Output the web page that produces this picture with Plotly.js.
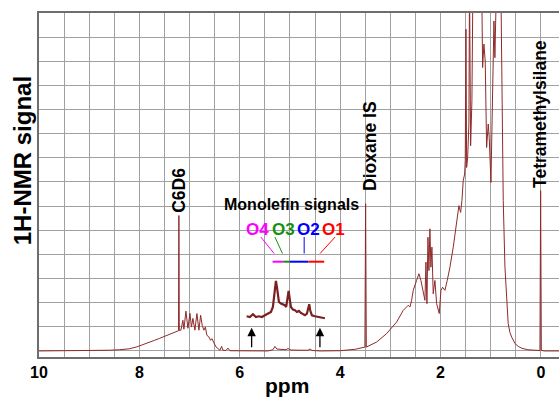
<!DOCTYPE html>
<html>
<head>
<meta charset="utf-8">
<script src="https://cdn.plot.ly/plotly-3.0.1.min.js"></script>
</head>
<body style="margin:0;background:#fff">
<div id="chart"></div>
<script>
// Main 1H-NMR spectrum (chemical shift in ppm, signal in grid units)
const ppm = [10.0, 9.0, 8.8, 8.6, 8.4, 8.2, 8.05, 7.95, 7.8, 7.7, 7.6, 7.5, 7.4, 7.3, 7.22, 7.213, 7.205,
  7.173, 7.133, 7.113, 7.073, 7.033, 6.993, 6.963, 6.934, 6.894, 6.854, 6.814, 6.780, 6.748, 6.714, 6.685,
  6.655, 6.615, 6.581, 6.555, 6.515, 6.475, 6.435, 6.396, 6.362, 6.336, 6.276, 6.236, 6.196, 6.0,
  5.44, 5.34, 5.30, 5.26, 5.16, 5.08, 5.04, 4.98, 4.80, 4.64, 4.60, 4.56, 4.40, 4.00, 3.70, 3.55,
  3.507, 3.493, 3.479, 3.273, 3.074, 2.875, 2.744, 2.644, 2.610, 2.576, 2.544, 2.477, 2.431, 2.391,
  2.345, 2.311, 2.291, 2.271, 2.251, 2.231, 2.212, 2.192, 2.172, 2.146, 2.112, 2.078, 2.026, 1.992,
  1.959, 1.913, 1.867, 1.813, 1.747, 1.680, 1.634, 1.600, 1.574, 1.548, 1.520, 1.508, 1.494, 1.480,
  1.460, 1.435, 1.423, 1.401, 1.375, 1.349, 1.295, 1.215, 1.162, 1.136, 1.110, 1.082, 1.050, 1.030,
  0.996, 0.962, 0.936, 0.917, 0.897, 0.837, 0.797, 0.777, 0.751, 0.717, 0.683, 0.652, 0.618, 0.584,
  0.518, 0.452, 0.379, 0.259, 0.120, 0.020, 0.006, -0.008, -0.08, -0.36];
const intensity = [0.0, 0.0, 0.01, 0.03, 0.05, 0.09, 0.17, 0.24, 0.36, 0.44, 0.52, 0.61, 0.71, 0.79, 0.84, 5.61, 0.85,
  0.86, 1.27, 0.90, 1.65, 0.94, 1.56, 0.99, 1.35, 0.86, 1.55, 0.86, 1.48, 1.06, 0.86, 0.99,
  0.65, 0.58, 0.44, 0.51, 0.31, 0.17, 0.10, 0.03, 0.19, 0.03, 0.02, 0.12, 0.01, 0.0,
  0.0, 0.05, 0.19, 0.08, 0.07, 0.05, 0.10, 0.04, 0.03, 0.03, 0.08, 0.02, 0.0, 0.01, 0.07, 0.13,
  0.16, 6.10, 0.16, 0.37, 0.72, 1.20, 1.68, 1.89, 1.82, 2.10, 2.51, 2.92, 3.20, 2.92,
  2.51, 2.10, 3.68, 1.96, 4.71, 3.33, 5.06, 3.47, 4.30, 2.37, 2.92, 1.96, 1.55, 2.51,
  2.64, 2.51, 2.92, 3.47, 4.30, 5.26, 6.02, 5.74, 6.23, 7.05, 7.33, 7.88, 13.33, 7.60,
  8.02, 9.40, 15.3, 8.50, 10.36, 16.6, 20.0, 22.0, 11.74, 12.71, 12.01, 8.43, 9.40, 8.84,
  6.98, 12.01, 13.67, 12.15, 16.0, 20.0, 14.9, 10.36, 6.23, 3.47, 2.10, 1.13, 0.77, 0.58,
  0.31, 0.19, 0.11, 0.05, 0.03, 0.02, 6.64, 0.02, 0.0, 0.0];

// Magnified olefin region (inset)
const insetPpm = [5.864, 5.798, 5.738, 5.678, 5.618, 5.559, 5.499, 5.439, 5.379, 5.340, 5.320, 5.300, 5.280,
  5.260, 5.240, 5.220, 5.180, 5.140, 5.101, 5.075, 5.055, 5.027, 5.001, 4.981, 4.941, 4.901, 4.862,
  4.822, 4.782, 4.742, 4.702, 4.662, 4.636, 4.616, 4.597, 4.563, 4.503, 4.443, 4.383, 4.324, 4.304];
const insetIntensity = [0.20, 0.13, 0.40, 0.13, 0.20, 0.13, 0.30, 0.47, 0.63, 1.13, 2.13, 3.13, 3.73,
  3.13, 2.13, 1.63, 1.47, 1.40, 1.30, 1.13, 1.80, 2.73, 1.80, 1.13, 0.87, 0.80, 0.63,
  0.73, 0.53, 0.40, 0.30, 0.47, 1.13, 1.40, 0.80, 0.30, 0.20, 0.13, 0.07, -0.03, 0.00];

// Tick positions (grid every 0.5 ppm) and tick labels (every 2 ppm)
const tickVals = [10, 9.5, 9, 8.5, 8, 7.5, 7, 6.5, 6, 5.5, 5, 4.5, 4, 3.5, 3, 2.5, 2, 1.5, 1, 0.5, 0];
const tickText = ['10', '', '', '', '8', '', '', '', '6', '', '', '', '4', '', '', '', '2', '', '', '', '0'];

// Peak labels
const peakLabels = ['C6D6', 'Dioxane IS', 'Tetramethylsilane'];
const peakLabelPpm = [7.215, 3.417, 0.01];

// Olefin group labels and their ppm ranges
const olefinLabels = ['O4', 'O3', 'O2', 'O1'];
const olefinColors = ['#ff00ff', '#129112', '#0000ff', '#ff0000'];
const olefinLabelPpm = [5.643, 5.134, 4.622, 4.124];
const olefinSegStart = [5.346, 5.134, 5.001, 4.636];
const olefinSegEnd = [5.134, 5.001, 4.636, 4.318];
const connectorTop = [5.581, 5.300, 4.717, 4.100];
const connectorBottom = [5.315, 5.149, 4.717, 4.400];
const arrowPpm = [5.764, 4.403];

const FONT = '"Liberation Sans", Arial, Helvetica, sans-serif';
const GRID = 'rgb(160,160,160)';
const H = 344, TOPPX = 13; // plot height and top offset in px
const py = (ypx) => (TOPPX + H - ypx) / H; // pixel y -> paper y

const traces = [
  {x: ppm, y: intensity, type: 'scatter', mode: 'lines',
   line: {color: '#8e2a2a', width: 1}, hoverinfo: 'skip'},
  {x: insetPpm, y: insetIntensity, type: 'scatter', mode: 'lines',
   line: {color: '#7a2020', width: 2.2}, yaxis: 'y2', hoverinfo: 'skip'}
];

const shapes = [
  {type: 'rect', xref: 'x', yref: 'paper', x0: 5.90, x1: 4.244, y0: py(327), y1: py(264),
   fillcolor: '#ffffff', line: {width: 0}, layer: 'between'}
];
for (let i = 0; i < olefinLabels.length; i++) {
  shapes.push({type: 'line', xref: 'x', yref: 'paper', x0: olefinSegStart[i], x1: olefinSegEnd[i],
    y0: py(261.7), y1: py(261.7), line: {color: olefinColors[i], width: 2}});
  shapes.push({type: 'line', xref: 'x', yref: 'paper', x0: connectorTop[i], x1: connectorBottom[i],
    y0: py(237), y1: py(253.5), line: {color: olefinColors[i], width: 1}});
}

const annotations = [
  {text: '<b>1H-NMR signal</b>', xref: 'paper', yref: 'paper', x: -0.0327, y: 0.572, textangle: -90,
   showarrow: false, xanchor: 'center', yanchor: 'middle', font: {family: FONT, size: 24, color: '#000'}},
  {text: '<b>ppm</b>', xref: 'paper', yref: 'paper', x: 0.477, y: py(372), showarrow: false,
   xanchor: 'center', yanchor: 'top', font: {family: FONT, size: 21, color: '#000'}},
  {text: '<b>Monolefin signals</b>', xref: 'x', yref: 'paper', x: 4.967, y: py(204), showarrow: false,
   xanchor: 'center', yanchor: 'middle', font: {family: FONT, size: 16, color: '#000'}}
];
const peakLabelY = [190, 146.5, 113.5];
for (let i = 0; i < peakLabels.length; i++) {
  annotations.push({text: '<b>' + peakLabels[i] + '</b>', xref: 'x', yref: 'paper', x: peakLabelPpm[i],
    y: py(peakLabelY[i]), textangle: -90, showarrow: false, xanchor: 'center', yanchor: 'middle',
    font: {family: FONT, size: 17.5, color: '#000'}});
}
for (let i = 0; i < olefinLabels.length; i++) {
  annotations.push({text: '<b>' + olefinLabels[i] + '</b>', xref: 'x', yref: 'paper', x: olefinLabelPpm[i],
    y: py(229), showarrow: false, xanchor: 'center', yanchor: 'middle',
    font: {family: FONT, size: 17, color: olefinColors[i]}});
}
for (let i = 0; i < arrowPpm.length; i++) {
  annotations.push({text: '', xref: 'x', yref: 'y', x: arrowPpm[i], y: 0.96, ax: 0, ay: 21,
    showarrow: true, arrowhead: 2, arrowsize: 1.3, arrowwidth: 1.3, arrowcolor: '#000', standoff: 0});
}

const layout = {
  width: 559, height: 399,
  margin: {l: 39, r: 0, t: TOPPX, b: 399 - TOPPX - H},
  showlegend: false,
  font: {family: FONT, color: '#000'},
  xaxis: {
    range: [10, -0.36],
    tickmode: 'array', tickvals: tickVals, ticktext: tickText,
    tickfont: {family: FONT, size: 16, color: '#000', weight: 'bold'},
    showgrid: true, gridcolor: GRID, gridwidth: 1,
    showline: true, linecolor: '#6e6e6e', linewidth: 1.5, mirror: true,
    zeroline: false
  },
  yaxis: {
    range: [-0.25, 14], dtick: 1, tick0: 0, showticklabels: false,
    showgrid: true, gridcolor: GRID, gridwidth: 1,
    showline: true, linecolor: '#6e6e6e', linewidth: 1.5,
    zeroline: false
  },
  yaxis2: {range: [-3.87, 30.5], overlaying: 'y', visible: false, showgrid: false, zeroline: false},
  shapes: shapes,
  annotations: annotations
};

Plotly.newPlot('chart', traces, layout, {displayModeBar: false});
</script>
</body>
</html>
